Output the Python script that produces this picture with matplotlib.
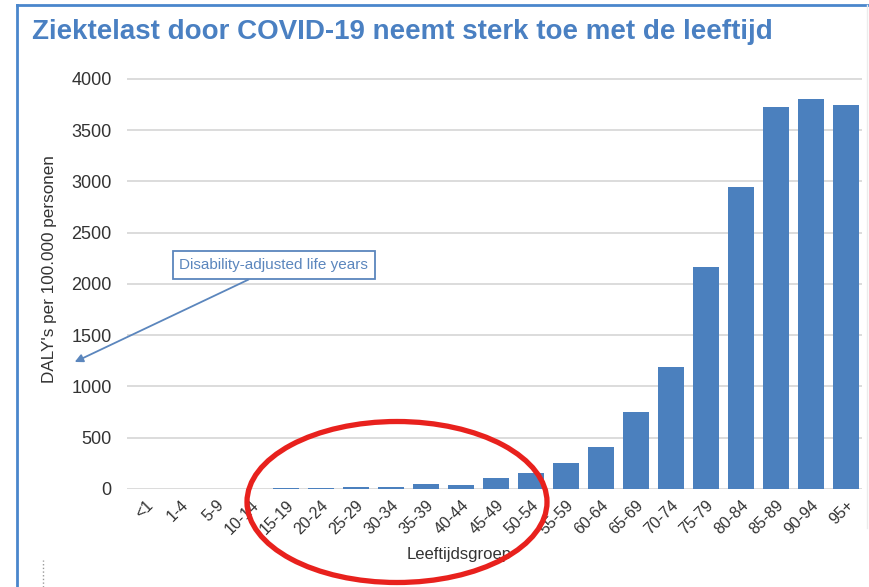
import matplotlib
matplotlib.use("Agg")
import matplotlib.pyplot as plt
from matplotlib.patches import Ellipse
from matplotlib.lines import Line2D

plt.rcParams['font.family'] = ['Liberation Sans', 'DejaVu Sans']

# leeftijdsgroepen en DALY's per 100.000
groepen = ["<1", "1-4", "5-9", "10-14", "15-19", "20-24", "25-29", "30-34",
           "35-39", "40-44", "45-49", "50-54", "55-59", "60-64", "65-69",
           "70-74", "75-79", "80-84", "85-89", "90-94", "95+"]
dalys = [2, 1, 1, 2, 7, 8, 17, 20, 45, 35, 107, 153, 250, 413, 748,
         1187, 2163, 2943, 3730, 3805, 3746]
yticks = [0, 500, 1000, 1500, 2000, 2500, 3000, 3500, 4000]

blauw = '#4b80be'
titelblauw = '#4a80c2'

fig = plt.figure(figsize=(8.69, 5.87), dpi=100)
ax = fig.add_axes([0.146, 0.167, 0.846, 0.7072])

x = list(range(len(groepen)))
ax.bar(x, dalys, width=0.75, color=blauw, zorder=3)

ax.set_xlim(-0.54, 20.46)
ax.set_ylim(0, 4050)
ax.set_yticks(yticks)
ax.set_yticklabels([str(v) for v in yticks], fontsize=13, color='#333333')
ax.set_xticks(x)
ax.set_xticklabels(groepen, rotation=45, ha='right', rotation_mode='anchor',
                   fontsize=11.5, color='#333333')
ax.tick_params(axis='both', length=0)
ax.tick_params(axis='y', pad=11)
ax.tick_params(axis='x', pad=6)
ax.grid(axis='y', color='#d6d6d6', linewidth=1.2, zorder=0)
for s in ax.spines.values():
    s.set_visible(False)

ax.set_ylabel("DALY's per 100.000 personen", fontsize=12.3, color='#333333')
ax.yaxis.set_label_coords(-0.095, 0.53)
ax.set_xlabel("Leeftijdsgroep", fontsize=12, color='#333333')
ax.xaxis.set_label_coords(0.452, -0.14)

# toelichting met pijl
ax.annotate("Disability-adjusted life years", xy=(-2.03, 1239), xytext=(3.66, 2185),
            xycoords='data', textcoords='data', annotation_clip=False,
            ha='center', va='center', fontsize=11, color='#5b86bd',
            bbox=dict(boxstyle='square,pad=0.45', fc='white', ec='#5b86bd', lw=1.3),
            arrowprops=dict(arrowstyle='-|>', color='#5b86bd', lw=1.3,
                            relpos=(0.45, 0), mutation_scale=12, shrinkA=0, shrinkB=0))

fig.text(0.037, 0.945, "Ziektelast door COVID-19 neemt sterk toe met de leeftijd",
         fontsize=20, fontweight='bold', color=titelblauw, ha='left', va='center')

# blauwe kader lijnen
fig.add_artist(Line2D([17 / 869, 1.0], [1 - 5 / 587, 1 - 5 / 587], color='#4a86cc', lw=2))
fig.add_artist(Line2D([17 / 869, 17 / 869], [0, 1 - 5 / 587], color='#4a86cc', lw=2))
fig.add_artist(Line2D([867 / 869, 867 / 869], [0.1, 1 - 5 / 587], color='#ececec', lw=1))
fig.add_artist(Line2D([43 / 869, 43 / 869], [0, 1 - 560 / 587], color='#999999', lw=1, ls=':'))

# rode ellips
fig.add_artist(Ellipse((397 / 869, 1 - 502 / 587), 300 / 869, 161 / 587,
                       transform=fig.transFigure, fill=False, ec='#e8211d', lw=3.8, zorder=10))

fig.savefig("out.png", dpi=100)
